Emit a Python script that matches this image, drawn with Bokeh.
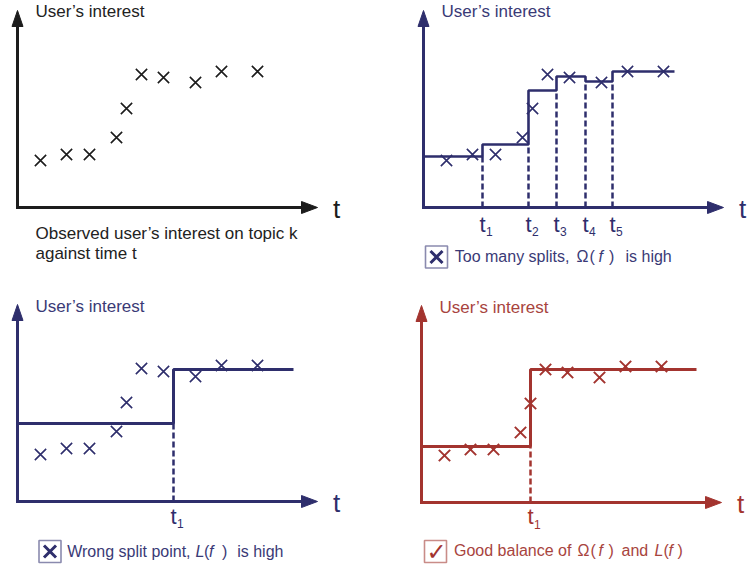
from bokeh.plotting import figure
from bokeh.layouts import gridplot
from bokeh.models import Range1d
from bokeh.core.properties import value
from bokeh.embed import file_html
from bokeh.resources import INLINE

# ---------------- data (panel units: px from axis origin) ----------------
obs_t = [23, 49, 72, 99, 109, 124, 146, 178, 204, 240]
obs_v = [47, 53, 53, 70, 99, 133, 130, 125, 136, 136]

many_splits = [59, 105, 133, 162, 189]
many_levels = [51, 63, 117, 131, 126, 136]
many_end = 251
many_labels = ["1", "2", "3", "4", "5"]

wrong_splits = [156]
wrong_levels = [78, 132]
wrong_end = 276
wrong_labels = ["1"]

good_splits = [109]
good_levels = [56, 133]
good_end = 275
good_labels = ["1"]

axis_t_len = 300
axis_v_len = 197

title_text = "User\u2019s interest"
caption1 = ["Observed user\u2019s interest on topic k", "against time t"]

FONT = "Liberation Sans"

BLACK, BLACK_TXT = "#1c1c1c", "#222222"
NAVY, NAVY_TXT, NAVY_BOX = "#2e2e6c", "#3a3a76", "#8a8aae"
RED, RED_TXT, RED_BOX = "#a3342f", "#a8443e", "#c98c88"


def panel(x0, x1, y0, y1, w, h):
    p = figure(width=w, height=h, x_range=Range1d(x0, x1), y_range=Range1d(y0, y1),
               output_backend="svg", toolbar_location=None, tools="", min_border=0,
               x_axis_location=None, y_axis_location=None,
               background_fill_color="white", border_fill_color="white")
    p.grid.visible = False
    p.outline_line_color = None
    return p


def txt(p, x, y, s, size, color, align="left", style="normal", font=FONT):
    p.text(x=[x], y=[y], text=[s], text_font=value(font), text_font_size=size,
           text_color=color, text_align=align, text_baseline="middle",
           text_font_style=style)


def axes(p, color, title_color, title_y):
    L, H = axis_t_len, axis_v_len
    p.line([0, 0, L - 12], [H - 12, 0, 0], line_width=3, line_color=color, line_join="miter")
    p.patches(xs=[[L - 16, L, L - 16], [-5.5, 0, 5.5]],
              ys=[[-6, 0, 6], [H - 16, H, H - 16]],
              fill_color=color, line_color=color, line_width=1)
    txt(p, L + 19, -1.5, "t", "26px", color, align="center")
    txt(p, 18, title_y, title_text, "17px", title_color)


def crosses(p, color, lw=1.6):
    p.scatter(obs_t, obs_v, marker="x", size=16, line_width=lw, line_color=color)


def steps(p, splits, levels, end, labels, color, lw, tb, sb):
    mins = [min(levels[i], levels[i + 1]) for i in range(len(splits))]
    p.segment(x0=splits, y0=[0] * len(splits), x1=splits, y1=mins,
              line_dash="6 3", line_width=2.5, line_color=color)
    p.step(x=[0] + splits + [end], y=levels + [levels[-1]], mode="after",
           line_width=lw, line_color=color)
    p.text(x=[s + 3 for s in splits], y=[tb] * len(splits), text=["t"] * len(splits),
           text_font=value(FONT), text_font_size="22px", text_color=color,
           text_align="right", text_baseline="middle")
    p.text(x=[s + 3.5 for s in splits], y=[sb] * len(splits), text=labels,
           text_font=value(FONT), text_font_size="12px", text_color=color,
           text_align="left", text_baseline="middle")


def checkbox(p, x, y, color, box_color, mark):
    p.rect(x=[x], y=[y], width=22, height=22, fill_color="white",
           line_color=box_color, line_width=1.6)
    if mark == "x":
        p.scatter(x=[x], y=[y], marker="x", size=17, line_width=3.0, line_color=color)
    else:
        txt(p, x + 1, y, "\u2713", "24px", color, align="center", font="DejaVu Sans")


def caption(p, pieces, y, color, size="16px"):
    for s, x, it in pieces:
        txt(p, x, y, s, size, color, style="italic" if it else "normal")


# ---------------- panel 1: observations ----------------
o1x, o1y = 17, 207
p1 = panel(0 - o1x, 376 - o1x, o1y - 282, o1y - 0, 376, 282)
axes(p1, BLACK, BLACK_TXT, 196)
crosses(p1, BLACK)
txt(p1, 18, -26.3, caption1[0], "17px", BLACK_TXT)
txt(p1, 18, -45.5, caption1[1], "17px", BLACK_TXT)

# ---------------- panel 2: too many splits ----------------
o2x, o2y = 423, 207
p2 = panel(376 - o2x, 752 - o2x, o2y - 282, o2y - 0, 376, 282)
steps(p2, many_splits, many_levels, many_end, many_labels, NAVY, 2.6, -17, -23.5)
axes(p2, NAVY, NAVY_TXT, 196)
crosses(p2, NAVY)
checkbox(p2, 13, -49.5, NAVY, NAVY_BOX, "x")
o = o2x
caption(p2, [("Too many splits, ", 454.3 - o, False), ("\u03a9", 576 - o, False),
             ("(", 589 - o, False), ("f", 598 - o, True), (")", 608.5 - o, False),
             ("is high", 625 - o, False)], -48.7, NAVY_TXT)

# ---------------- panel 3: wrong split point ----------------
o3x, o3y = 17, 501
p3 = panel(0 - o3x, 376 - o3x, o3y - 565, o3y - 282, 376, 283)
steps(p3, wrong_splits, wrong_levels, wrong_end, wrong_labels, NAVY, 3, -14.7, -22)
axes(p3, NAVY, NAVY_TXT, 195.5)
crosses(p3, NAVY)
checkbox(p3, 32.5, -50, NAVY, NAVY_BOX, "x")
o = o3x
caption(p3, [("Wrong split point, ", 66.7 - o, False), ("L", 195 - o, True),
             ("(", 203.5 - o, False), ("f", 208.5 - o, True), (")", 221.5 - o, False),
             ("is high", 236.7 - o, False)], -50, NAVY_TXT)

# ---------------- panel 4: good balance ----------------
o4x, o4y = 421, 502
p4 = panel(376 - o4x, 752 - o4x, o4y - 565, o4y - 282, 376, 283)
steps(p4, good_splits, good_levels, good_end, good_labels, RED, 3, -14.3, -22)
axes(p4, RED, RED_TXT, 195.5)
crosses(p4, RED, 2.0)
checkbox(p4, 14, -49, RED, RED_BOX, "check")
o = o4x
caption(p4, [("Good balance of ", 453.5 - o, False), ("\u03a9", 577 - o, False),
             ("(", 590 - o, False), ("f", 598 - o, True), (")", 608 - o, False),
             ("and", 621 - o, False), ("L", 654 - o, True), ("(", 663 - o, False),
             ("f", 668 - o, True), (")", 677 - o, False)], -48.3, RED_TXT)

grid = gridplot([[p1, p2], [p3, p4]], toolbar_location=None)

open("out.html", "w").write(file_html(grid, INLINE))
